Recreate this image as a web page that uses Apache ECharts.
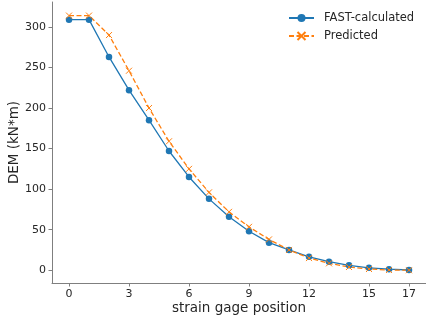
<!DOCTYPE html>
<html>
<head>
<meta charset="utf-8">
<script src="https://cdn.jsdelivr.net/npm/echarts@6/dist/echarts.min.js"></script>
<style>html,body{margin:0;padding:0;background:#fff}#c{width:426px;height:324px}</style>
</head>
<body>
<div id="c"></div>
<script>
const positions = [0,1,2,3,4,5,6,7,8,9,10,11,12,13,14,15,16,17];
const fastCalculated = [309,309,263,222,185,147,115,88,66,48,34,25,16.5,10.5,6,3,1.3,0.3];
const predicted = [314,314,290,246,200,159,125,96,72,53.5,38,25,15,8.5,4,1.5,0.3,0];
const xTicks = [0,3,6,9,12,15,17];
const yTicks = [0,50,100,150,200,250,300];

const chart = echarts.init(document.getElementById('c'), null, {renderer:'canvas'});
const txt = '#262626';
const axisCol = '#7f7f7f';
const font = 'DejaVu Sans';
chart.setOption({
  animation:false,
  textStyle:{fontFamily:font},
  grid:{left:52,right:0,top:2,bottom:41,containLabel:false,outerBoundsMode:'none'},
  legend:{
    orient:'vertical', left:283, top:7, itemWidth:25, itemHeight:10, itemGap:6,
    textStyle:{fontFamily:font,fontSize:11.5,color:txt,padding:[0,0,0,5]},
    data:['FAST-calculated','Predicted']
  },
  xAxis:{
    type:'value', min:-0.85, max:17.85,
    name:'strain gage position', nameLocation:'middle', nameGap:18,
    nameMoveOverlap:false,
    nameTextStyle:{fontFamily:font,fontSize:13.5,color:txt},
    axisLine:{onZero:false,lineStyle:{color:axisCol,width:1}},
    axisTick:{customValues:xTicks,length:3.5,lineStyle:{color:axisCol}},
    axisLabel:{customValues:xTicks,fontFamily:font,fontSize:11,color:txt,margin:6},
    splitLine:{show:false}
  },
  yAxis:{
    type:'value', min:-15.75, max:330.75,
    name:'DEM (kN*m)', nameLocation:'middle', nameGap:31, nameRotate:90,
    nameMoveOverlap:false,
    nameTextStyle:{fontFamily:font,fontSize:13.5,color:txt},
    axisLine:{show:true,onZero:false,lineStyle:{color:axisCol,width:1}},
    axisTick:{show:true,customValues:yTicks,length:3.5,lineStyle:{color:axisCol}},
    axisLabel:{customValues:yTicks,fontFamily:font,fontSize:11,color:txt,margin:6},
    splitLine:{show:false}
  },
  series:[
    {
      name:'FAST-calculated', type:'line',
      data:positions.map((p,i)=>[p,fastCalculated[i]]),
      symbol:'circle', symbolSize:6.5,
      lineStyle:{color:'#1f77b4',width:1.3},
      itemStyle:{color:'#1f77b4'}
    },
    {
      name:'Predicted', type:'line',
      data:positions.map((p,i)=>[p,predicted[i]]),
      symbol:'path://M0,0L10,10M10,0L0,10', symbolSize:6,
      lineStyle:{color:'#ff7f0e',width:1.3,type:[5,2.5]},
      itemStyle:{color:'#ff7f0e',borderColor:'#ff7f0e',borderWidth:1}
    }
  ]
});
</script>
</body>
</html>
